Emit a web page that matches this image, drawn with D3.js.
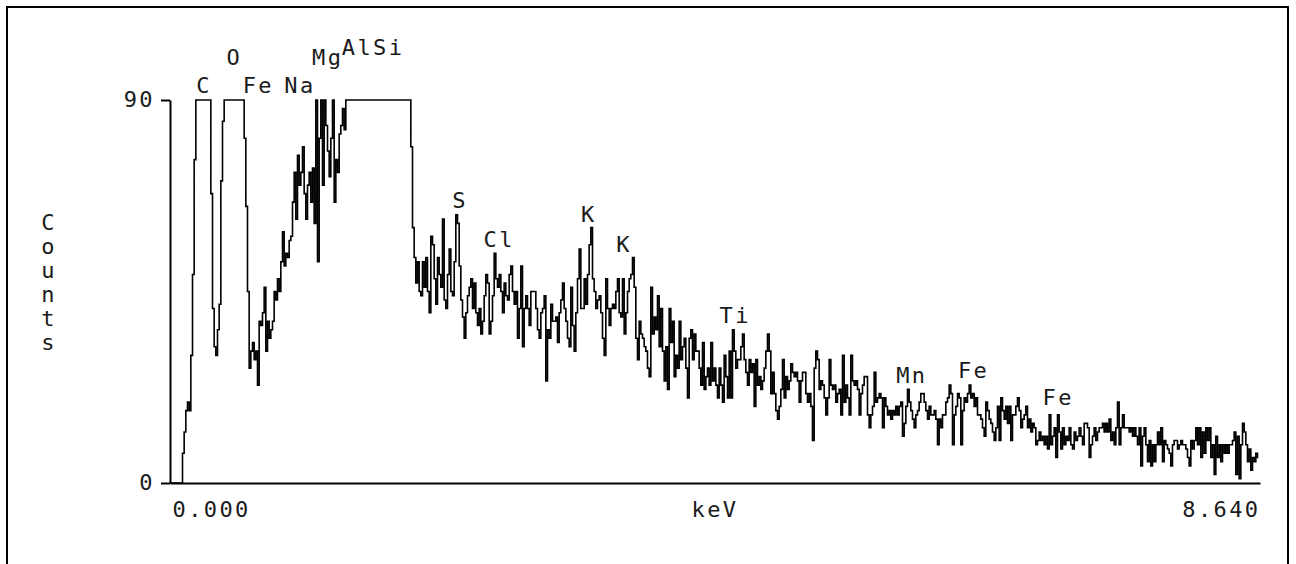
<!DOCTYPE html>
<html>
<head>
<meta charset="utf-8">
<script src="https://cdn.jsdelivr.net/npm/d3@7"></script>
<style>
body { margin: 0; background: #fff; }
svg text { font-family: "DejaVu Sans Mono", monospace; font-size: 22px; letter-spacing: 2.4px; fill: #1a1a1a; }
</style>
</head>
<body>
<script>
var width = 1296, height = 564;

// spectrum, one count per channel, channels spread over 0 - 8.64 keV
var eMin = 0, eMax = 8.64, nChannels = 654;
var yMax = 90;
var counts = [
  0,0,0,0,0,0,0,0,7,12,
  17,19,17,30,49,76,90,90,90,90,
  90,90,90,90,90,68,41,32,30,36,
  42,71,85,90,90,90,90,90,90,90,
  90,90,90,90,90,81,65,45,27,31,
  33,29,31,23,38,37,40,46,31,38,
  34,36,38,45,43,48,45,52,59,51,
  54,53,57,58,66,73,62,77,70,73,
  79,68,62,70,73,66,74,61,90,52,
  81,90,70,90,84,78,72,81,90,66,
  76,73,82,84,88,83,90,90,90,90,
  90,90,90,90,90,90,90,90,90,90,
  90,90,90,90,90,90,90,90,90,90,
  90,90,90,90,90,90,90,90,90,90,
  90,90,90,90,90,79,60,53,47,52,
  45,44,52,46,53,45,40,58,56,48,
  42,53,49,46,62,43,41,49,55,45,
  44,52,63,61,51,43,39,34,40,44,
  46,48,41,47,40,37,41,35,38,44,
  49,47,35,38,44,54,48,46,49,45,
  40,47,44,43,49,51,45,42,45,34,
  41,51,32,41,44,41,37,45,45,45,
  41,36,34,40,41,44,24,36,34,42,
  38,38,39,33,40,43,47,41,38,34,
  32,46,37,31,40,48,55,41,41,48,
  42,49,56,60,48,45,41,43,44,40,
  34,30,48,41,37,41,42,41,45,48,
  40,39,48,35,40,45,48,49,53,46,
  34,29,38,35,34,32,31,27,25,46,
  35,39,36,44,32,41,31,24,32,22,
  41,33,38,25,30,27,38,29,32,34,
  27,20,34,36,29,35,31,31,27,23,
  33,22,25,27,23,33,24,27,23,20,
  27,23,19,30,25,20,31,20,36,31,
  27,29,29,32,35,29,26,23,29,26,
  28,18,29,23,25,22,24,27,31,35,
  31,21,26,21,17,15,18,22,29,20,
  25,22,24,28,26,25,26,24,19,24,
  26,26,21,19,21,18,10,27,31,29,
  22,24,23,20,16,20,29,23,22,23,
  19,21,22,16,30,19,23,20,16,30,
  24,23,24,22,16,21,23,25,25,16,
  13,16,18,26,19,20,21,20,13,20,
  18,16,17,15,17,16,18,16,18,19,
  11,14,18,22,19,17,15,13,16,17,
  19,21,21,19,17,15,18,16,16,17,
  15,9,15,13,16,16,19,20,23,21,
  9,16,18,21,20,9,17,20,19,21,
  23,20,21,18,20,16,16,15,13,11,
  19,17,15,14,12,10,13,18,10,20,
  17,15,18,14,18,10,16,16,18,20,
  17,13,15,16,18,13,15,12,14,13,
  9,10,12,10,11,9,11,8,16,9,
  11,13,6,16,12,8,13,9,11,10,
  13,9,8,12,10,11,13,11,9,14,
  14,13,6,9,11,13,10,12,13,13,
  14,12,14,12,15,10,12,9,13,19,
  9,13,16,13,13,13,12,13,11,13,
  11,9,13,4,11,13,9,5,10,4,
  9,5,9,12,9,13,5,10,9,8,
  7,4,9,10,10,8,9,10,9,9,
  8,6,4,10,8,10,13,9,13,6,
  12,7,13,10,13,6,9,2,11,6,
  9,5,9,7,9,7,9,9,10,12,
  2,11,1,9,14,12,9,5,8,3,
  6,5,7,6
];

// element labels: energy (keV) and the count level of the label baseline
var peakNames    = ["C", "O", "Fe", "Na", "Mg", "AlSi", "S", "Cl", "K", "K", "Ti", "Mn", "Fe", "Fe"];
var peakEnergies = [0.27, 0.51, 0.70, 1.03, 1.25, 1.61, 2.30, 2.61, 3.32, 3.60, 4.48, 5.88, 6.37, 7.04];
var peakLevels   = [91.6, 98.2, 91.6, 91.6, 98.2, 100.6, 64.6, 55.5, 61.3, 54.3, 37.6, 23.5, 24.7, 18.3];

var xLabel = "keV", yLabel = "Counts";

var margin = {left: 170, right: 36, top: 100, bottom: 81};

var svg = d3.select("body")
    .append("svg")
    .attr("width", width)
    .attr("height", height);

// frame round the whole picture (open at the bottom edge)
svg.append("rect")
    .attr("x", 7).attr("y", 7)
    .attr("width", 1281).attr("height", 620)
    .attr("fill", "none")
    .attr("stroke", "#000")
    .attr("stroke-width", 2);

var x = d3.scaleLinear().domain([eMin, eMax]).range([margin.left, width - margin.right]);
var y = d3.scaleLinear().domain([0, yMax]).range([height - margin.bottom, margin.top]);

var data = counts.map(function(c, i) { return {e: eMin + i * (eMax - eMin) / nChannels, c: Math.min(c, yMax)}; });

var line = d3.line()
    .curve(d3.curveStep)
    .x(function(d) { return x(d.e); })
    .y(function(d) { return y(d.c); });

svg.append("path")
    .datum(data)
    .attr("fill", "none")
    .attr("stroke", "#000")
    .attr("stroke-width", 1.6)
    .attr("d", line);

// y axis
var yAxis = svg.append("g")
    .attr("transform", "translate(" + margin.left + ",0)")
    .call(d3.axisLeft(y).tickValues([0, yMax]).tickSize(9).tickSizeOuter(0).tickPadding(6));
yAxis.selectAll("text").attr("dy", "0.3em");

// x axis, labels only at both ends
var xAxis = svg.append("g")
    .attr("transform", "translate(0," + y(0) + ")")
    .call(d3.axisBottom(x).tickValues([eMin, eMax]).tickSize(0).tickSizeOuter(0).tickFormat(d3.format(".3f")));
xAxis.selectAll("text")
    .attr("y", 34).attr("dy", null)
    .attr("text-anchor", function(d) { return d === eMin ? "start" : "end"; })
    .attr("x", function(d) { return d === eMin ? 2 : 0; });

svg.selectAll(".domain, .tick line").attr("stroke", "#000").attr("stroke-width", 2);
svg.selectAll("g text").attr("font-family", null).attr("font-size", null).attr("fill", null);

svg.append("text")
    .attr("x", x((eMin + eMax) / 2))
    .attr("y", y(0) + 34)
    .attr("text-anchor", "middle")
    .text(xLabel);

// vertical stacked y label
svg.append("g").selectAll("text")
    .data(yLabel.split(""))
  .enter().append("text")
    .attr("x", 49)
    .attr("y", function(d, i) { return 230 + i * 24; })
    .attr("text-anchor", "middle")
    .text(function(d) { return d; });

svg.append("g").selectAll("text")
    .data(peakNames)
  .enter().append("text")
    .attr("x", function(d, i) { return x(peakEnergies[i]); })
    .attr("y", function(d, i) { return y(peakLevels[i]); })
    .attr("text-anchor", "middle")
    .text(function(d) { return d; });
</script>
</body>
</html>
